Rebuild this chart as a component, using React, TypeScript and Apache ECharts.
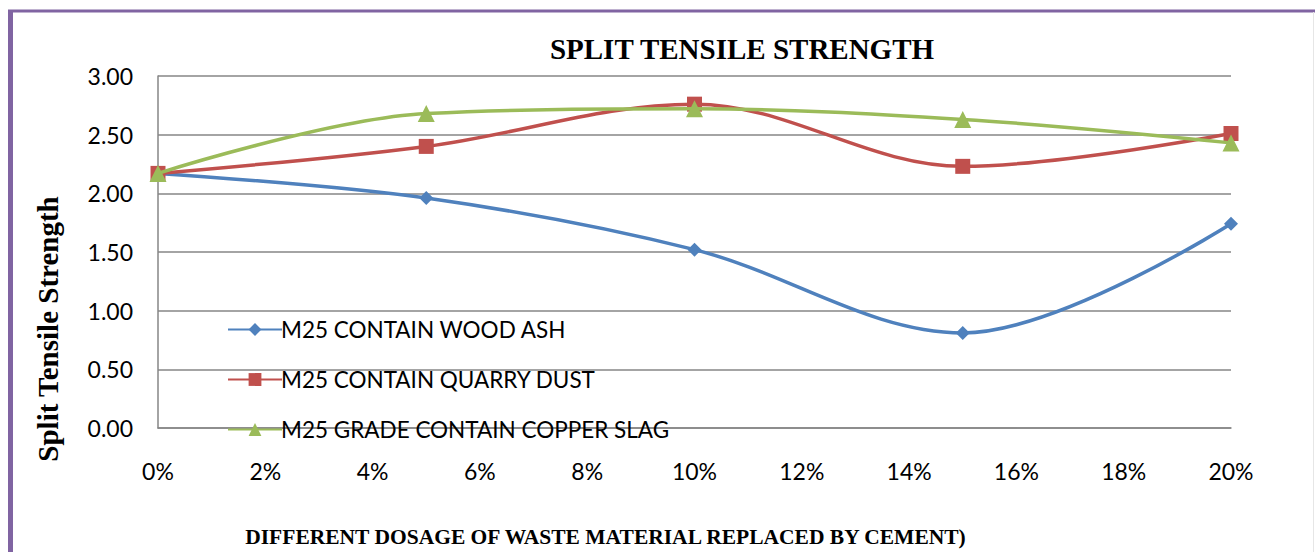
import React, { useEffect, useRef } from "react";
import * as echarts from "echarts";

const dosages = [0, 0.05, 0.1, 0.15, 0.2];
const woodAsh = [2.17, 1.96, 1.52, 0.81, 1.74];
const quarryDust = [2.17, 2.4, 2.76, 2.23, 2.51];
const copperSlag = [2.17, 2.68, 2.72, 2.63, 2.43];
const seriesNames = ["M25 CONTAIN WOOD ASH", "M25 CONTAIN QUARRY DUST", "M25 GRADE CONTAIN COPPER SLAG"];
const seriesColors = ["#4F81BD", "#C0504D", "#9BBB59"];
const seriesSymbols = ["diamond", "rect", "triangle"];
const seriesSymbolSizes = [14, 15, 17];

export default function App() {
  const ref = useRef<HTMLDivElement>(null);
  useEffect(() => {
    if (!ref.current) return;
    const chart = echarts.init(ref.current, null, { renderer: "svg" });
    const values = [woodAsh, quarryDust, copperSlag];
    const labelFont = "Lato, 'Open Sans', sans-serif";
    const serif = "'Liberation Serif', 'Times New Roman', serif";
    chart.setOption({
      animation: false,
      backgroundColor: "#ffffff",
      title: {
        text: "SPLIT TENSILE STRENGTH",
        left: 737,
        top: 29,
        textAlign: "center",
        textStyle: { fontFamily: serif, fontWeight: "bold", fontSize: 29, color: "#000" },
      },
      grid: { left: 158, right: 84, top: 76, bottom: 124, containLabel: false, outerBoundsMode: "none" },
      legend: {
        orient: "vertical",
        left: 222,
        top: 313,
        itemWidth: 54,
        itemHeight: 16,
        itemGap: 27,
        textStyle: { fontFamily: labelFont, fontSize: 22.5, color: "#000", padding: [0, 0, 0, -6] },
        data: seriesNames,
      },
      xAxis: {
        type: "value",
        min: 0,
        max: 0.2,
        interval: 0.02,
        name: "DIFFERENT DOSAGE OF WASTE MATERIAL REPLACED BY CEMENT)",
        nameLocation: "middle",
        nameGap: 98,
        nameTextStyle: { fontFamily: serif, fontWeight: "bold", fontSize: 21.5, color: "#000", padding: [0, 0, 0, -178] },
        axisLine: { show: true, lineStyle: { color: "#868686", width: 1.5 } },
        axisTick: { show: false },
        splitLine: { show: false },
        axisLabel: {
          margin: 31,
          fontFamily: labelFont,
          fontSize: 23,
          color: "#000",
          formatter: (v: number) => Math.round(v * 100) + "%",
        },
      },
      yAxis: {
        type: "value",
        min: 0,
        max: 3,
        interval: 0.5,
        name: "Split Tensile Strength",
        nameLocation: "middle",
        nameGap: 96,
        nameTextStyle: { fontFamily: serif, fontWeight: "bold", fontSize: 29, color: "#000", padding: [0, 0, 0, -154] },
        axisLine: { show: true, lineStyle: { color: "#868686", width: 1.5 } },
        axisTick: { show: false },
        splitLine: { show: true, lineStyle: { color: "#868686", width: 1.5 } },
        axisLabel: {
          margin: 25,
          fontFamily: labelFont,
          fontSize: 23,
          color: "#000",
          formatter: (v: number) => v.toFixed(2),
        },
      },
      series: seriesNames.map((name, i) => ({
        name,
        type: "line",
        smooth: 0.35,
        data: dosages.map((d, j) => [d, values[i][j]]),
        symbol: seriesSymbols[i],
        symbolSize: seriesSymbolSizes[i],
        showAllSymbol: true,
        itemStyle: { color: seriesColors[i] },
        lineStyle: { color: seriesColors[i], width: 3.5 },
        z: 3 + i,
      })),
      graphic: [
        { type: "line", shape: { x1: 10.5, y1: 11, x2: 10.5, y2: 560 }, style: { stroke: "#8064A2", lineWidth: 5 }, silent: true },
        { type: "line", shape: { x1: 8, y1: 11, x2: 1315, y2: 11 }, style: { stroke: "#8064A2", lineWidth: 3 }, silent: true },
        { type: "line", shape: { x1: 1313.5, y1: 12, x2: 1313.5, y2: 560 }, style: { stroke: "#e6e6e6", lineWidth: 1 }, silent: true },
      ],
    });
    return () => chart.dispose();
  }, []);
  return (
    <div
      ref={ref}
      style={{ position: "fixed", left: 0, top: 0, width: 1315, height: 552 }}
    />
  );
}
